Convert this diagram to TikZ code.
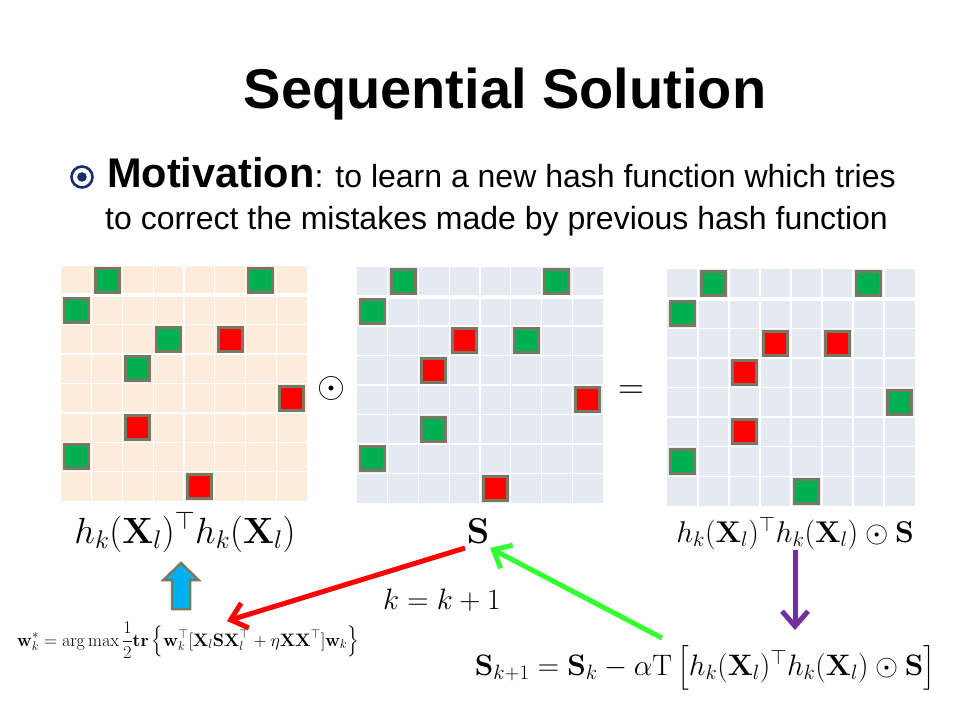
\RequirePackage{fix-cm}
\documentclass[tikz,border=0pt]{standalone}
\usepackage{amsmath}
\usepackage[no-math]{fontspec}
\newfontfamily\arialfont{Liberation Sans}
\usetikzlibrary{arrows.meta}
\definecolor{peach}{RGB}{253,235,220}
\definecolor{paleblue}{RGB}{228,233,242}
\definecolor{gr}{RGB}{0,176,80}
\definecolor{rd}{RGB}{255,0,0}
\definecolor{sqborder}{RGB}{120,120,100}
\definecolor{navy}{RGB}{25,45,110}
\definecolor{skyblue}{RGB}{0,176,240}
\definecolor{brightgreen}{RGB}{51,255,51}
\definecolor{purp}{RGB}{112,48,160}
\tikzset{
  gridline/.style={white, line width=1.3pt},
  sq/.style={draw=sqborder, line width=3pt, minimum size=24pt, inner sep=0pt},
  mathlbl/.style={anchor=base, inner sep=0pt},
  bigarrow/.style={line width=5pt, -{Straight Barb[length=15pt,width=26pt]}},
}
\newcommand\mygrid[7]{%
  \fill[#6] (#2,#3) rectangle ++(#4,#5);
  \foreach \ii in {1,...,7}{
    \draw[gridline] ({#2+\ii*#4/8},#3) -- ++(0,#5);
    \draw[gridline] (#2,{#3+\ii*#5/8}) -- ++(#4,0);
  }
  \draw[white, line width=4pt] (#2,{#3+#5/8}) -- ++(#4,0);
  \foreach \cc/\rr/\kk [count=\nn] in {#7}{
    \node[sq, fill=\kk] (#1-\nn) at ({#2+(\cc+0.5)*#4/8},{#3+(\rr+0.5)*#5/8}) {};
  }
}
\begin{document}
\begin{tikzpicture}[x=1pt,y=-1pt]
\useasboundingbox (0,0) rectangle (960,720);
\fill[white] (0,0) rectangle (960,720);

% title
\node[anchor=base, inner sep=0pt, font={\arialfont\bfseries\fontsize{56}{60}\selectfont}] (title) at (505,108) {Sequential Solution};

% bullet
\draw[navy, line width=2.6pt] (82,177) circle (10.5);
\fill[navy] (82,177) circle (4.8);
\node[anchor=base west, inner sep=0pt, font={\arialfont\fontsize{32}{36}\selectfont}] (mot1) at (107,187)
  {{\fontsize{41.5}{46}\selectfont\bfseries Motivation}: to learn a new hash function which tries};
\node[anchor=base west, inner sep=0pt, font={\arialfont\fontsize{32}{36}\selectfont}] (mot2) at (105,229)
  {to correct the mistakes made by previous hash function};

% grids
\mygrid{A}{61}{266}{246}{235}{peach}{1/0/gr, 6/0/gr, 0/1/gr, 3/2/gr, 5/2/rd, 2/3/gr, 7/4/rd, 2/5/rd, 0/6/gr, 4/7/rd}
\mygrid{B}{357}{267}{246}{236}{paleblue}{1/0/gr, 6/0/gr, 0/1/gr, 3/2/rd, 5/2/gr, 2/3/rd, 7/4/rd, 2/5/gr, 0/6/gr, 4/7/rd}
\mygrid{C}{667}{269}{248}{237}{paleblue}{1/0/gr, 6/0/gr, 0/1/gr, 3/2/rd, 5/2/rd, 2/3/rd, 7/4/gr, 2/5/rd, 0/6/gr, 4/7/gr}

% operators
\node[inner sep=0pt, font=\fontsize{36}{40}\selectfont] (odot) at (331,388) {$\odot$};
\node[inner sep=0pt, font=\fontsize{36}{40}\selectfont] (eq) at (631,392) {$=$};

% labels under the grids
\node[mathlbl, font=\fontsize{36.5}{42}\selectfont] (lblA) at (185,543) {$h_k(\mathbf{X}_l)^\top h_k(\mathbf{X}_l)$};
\node[mathlbl, font=\fontsize{36}{42}\selectfont] (lblB) at (478,543) {$\mathbf{S}$};
\node[mathlbl, font=\fontsize{30}{36}\selectfont] (lblC) at (795,542) {$h_k(\mathbf{X}_l)^\top h_k(\mathbf{X}_l)\odot\mathbf{S}$};

% bottom formulas
\node[mathlbl, font=\fontsize{18}{22}\selectfont] (wform) at (188,646)
  {$\displaystyle \mathbf{w}_k^* = \arg\max \frac{1}{2}\mathbf{tr}\left\{\mathbf{w}_k^\top[\mathbf{X}_l\mathbf{S}\mathbf{X}_l^\top + \eta\mathbf{X}\mathbf{X}^\top]\mathbf{w}_k\right\}$};
\node[mathlbl, font=\fontsize{29.5}{34}\selectfont] (kk) at (442,609) {$k=k+1$};
\node[mathlbl, font=\fontsize{29.6}{34}\selectfont] (sform) at (705,675)
  {$\mathbf{S}_{k+1} = \mathbf{S}_k - \alpha\mathrm{T}\left[h_k(\mathbf{X}_l)^\top h_k(\mathbf{X}_l)\odot\mathbf{S}\right]$};

% blue block arrow
\draw[fill=skyblue, draw=sqborder, line width=2.5pt, line join=miter]
  (181,563) -- (198.5,580) -- (190,580) -- (190,609) -- (172,609) -- (172,580) -- (163.5,580) -- cycle;

% connectors
\coordinate (redS) at (465,548);
\coordinate (redE) at (227,621);
\coordinate (grS) at (662,638);
\coordinate (grE) at (490,548);
\coordinate (puS) at (795,550);
\coordinate (puE) at (795,630);
\draw[bigarrow, rd] (redS) -- (redE);
\draw[bigarrow, brightgreen] (grS) -- (grE);
\draw[bigarrow, purp] (puS) -- (puE);
\end{tikzpicture}
\end{document}
